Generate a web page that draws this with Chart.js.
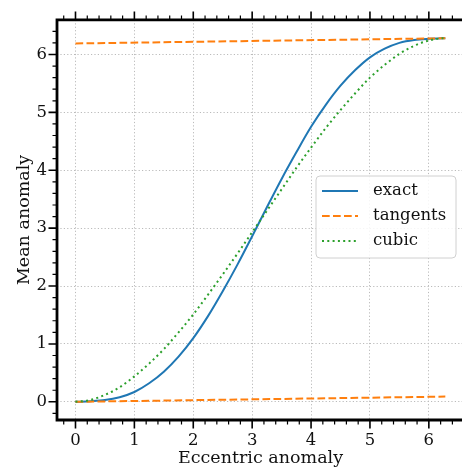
<!DOCTYPE html>
<html>
<head>
<meta charset="utf-8">
<title>Kepler's equation</title>
<script src="https://cdn.jsdelivr.net/npm/chart.js"></script>
<style>
  html, body { margin: 0; padding: 0; overflow: hidden; background: white; }
  #wrap { width: 462px; height: 468px; overflow: hidden; }
  #kepler { display: block; }
</style>
</head>
<body>
<div id="wrap"><canvas id="kepler" width="468" height="468"></canvas></div>
<script>
// eccentric anomaly samples and the mean anomaly along each curve
const eccAnomaly = [0, 0.25, 0.5, 0.75, 1.0, 1.25, 1.5, 1.75, 2.0, 2.25, 2.5, 2.75, 3.0,
                    3.25, 3.5, 3.75, 4.0, 4.25, 4.5, 4.75, 5.0, 5.25, 5.5, 5.75, 6.0, 6.25, 6.28];
const meanExact = [0, 0.01, 0.03, 0.08, 0.17, 0.32, 0.52, 0.78, 1.10, 1.48, 1.91, 2.37, 2.86,
                   3.36, 3.85, 4.31, 4.75, 5.13, 5.46, 5.73, 5.95, 6.10, 6.20, 6.25, 6.27, 6.28, 6.28];
const meanCubic = [0, 0.03, 0.12, 0.25, 0.44, 0.66, 0.91, 1.20, 1.51, 1.85, 2.20, 2.56, 2.93,
                   3.30, 3.67, 4.04, 4.39, 4.73, 5.04, 5.33, 5.60, 5.82, 6.01, 6.15, 6.24, 6.28, 6.28];
// end-point tangents: [E, M] pairs
const tangentLow  = [[0, 0], [6.28, 0.09]];
const tangentHigh = [[0, 6.19], [6.28, 6.28]];

const axisMin = -0.314;
const axisMax = 6.597;
const tickValues = [0, 1, 2, 3, 4, 5, 6];

const BLUE = '#1f77b4', ORANGE = '#ff7f0e', GREEN = '#2ca02c';
const SERIF = "'DejaVu Serif', serif";
const TICK_SIZE = 16.5, TITLE_SIZE = 17.5, LEGEND_SIZE = 16.5;

const toPoints = (xs, ys) => xs.map((x, i) => ({ x: x, y: ys[i] }));
const pairs = list => list.map(p => ({ x: p[0], y: p[1] }));

const legendItems = [
  { label: 'exact', color: BLUE, dash: [] },
  { label: 'tangents', color: ORANGE, dash: [7.7, 3.3] },
  { label: 'cubic', color: GREEN, dash: [2, 3.3] }
];

// left/top/bottom spines with major and minor ticks; the right side runs off the page
const framePlugin = {
  id: 'frame',
  afterDraw(chart) {
    const { ctx, chartArea: a, scales: { x, y } } = chart;
    ctx.save();
    ctx.strokeStyle = '#000';
    ctx.lineCap = 'butt';

    const drawTicks = (values, len, width) => {
      ctx.lineWidth = width;
      ctx.beginPath();
      values.forEach(v => {
        const px = x.getPixelForValue(v);
        ctx.moveTo(px, a.bottom); ctx.lineTo(px, a.bottom + len);
        ctx.moveTo(px, a.top);    ctx.lineTo(px, a.top - len);
        const py = y.getPixelForValue(v);
        ctx.moveTo(a.left, py);   ctx.lineTo(a.left - len, py);
      });
      ctx.stroke();
    };

    const minor = [];
    for (let k = -1; k <= 32; k++) {
      if (k % 5 !== 0) minor.push(k * 0.2);
    }
    drawTicks(minor, 4.5, 1.2);
    drawTicks(tickValues, 8.5, 1.6);

    ctx.lineWidth = 2.8;
    ctx.beginPath();
    ctx.moveTo(chart.width, a.top);
    ctx.lineTo(a.left, a.top);
    ctx.lineTo(a.left, a.bottom);
    ctx.lineTo(chart.width, a.bottom);
    ctx.stroke();
    ctx.restore();
  }
};

// boxed legend inside the plot, right of centre
const legendPlugin = {
  id: 'boxLegend',
  afterDatasetsDraw(chart) {
    const ctx = chart.ctx;
    const bx = 316, by = 176, bw = 140, bh = 82, r = 4;
    ctx.save();
    ctx.beginPath();
    ctx.roundRect(bx, by, bw, bh, r);
    ctx.fillStyle = 'rgba(255,255,255,0.85)';
    ctx.fill();
    ctx.lineWidth = 1;
    ctx.strokeStyle = '#d0d0d0';
    ctx.stroke();

    ctx.font = LEGEND_SIZE + 'px ' + SERIF;
    ctx.textBaseline = 'middle';
    legendItems.forEach((item, i) => {
      const ly = 191 + i * 25;
      ctx.beginPath();
      ctx.setLineDash(item.dash);
      ctx.strokeStyle = item.color;
      ctx.lineWidth = 2;
      ctx.moveTo(322, ly);
      ctx.lineTo(358, ly);
      ctx.stroke();
      ctx.setLineDash([]);
      ctx.fillStyle = '#111';
      ctx.fillText(item.label, 373, ly);
    });
    ctx.restore();
  }
};

const gridOpts = {
  color: '#bbbbbb',
  lineWidth: 1,
  drawTicks: false
};
const borderOpts = { display: false, dash: [1.2, 2.2] };

new Chart(document.getElementById('kepler'), {
  type: 'line',
  data: {
    datasets: [
      {
        label: 'exact',
        data: toPoints(eccAnomaly, meanExact),
        borderColor: BLUE,
        borderWidth: 2,
        pointRadius: 0,
        cubicInterpolationMode: 'monotone',
        order: 4
      },
      {
        label: 'tangents',
        data: pairs(tangentLow),
        borderColor: ORANGE,
        borderWidth: 2,
        borderDash: [7.7, 3.3],
        pointRadius: 0,
        order: 3
      },
      {
        label: 'tangents (apoapsis)',
        data: pairs(tangentHigh),
        borderColor: ORANGE,
        borderWidth: 2,
        borderDash: [7.7, 3.3],
        pointRadius: 0,
        order: 2
      },
      {
        label: 'cubic',
        data: toPoints(eccAnomaly, meanCubic),
        borderColor: GREEN,
        borderWidth: 2,
        borderDash: [2, 3.3],
        pointRadius: 0,
        cubicInterpolationMode: 'monotone',
        order: 1
      }
    ]
  },
  options: {
    responsive: false,
    animation: false,
    devicePixelRatio: 1,
    layout: { padding: { left: 0, top: 13, right: 4, bottom: 0 } },
    plugins: {
      legend: { display: false },
      tooltip: { enabled: false }
    },
    scales: {
      x: {
        type: 'linear',
        min: axisMin,
        max: axisMax,
        border: borderOpts,
        grid: gridOpts,
        afterBuildTicks: s => { s.ticks = tickValues.map(v => ({ value: v })); },
        afterFit: s => { s.height = 48; },
        ticks: {
          padding: 11,
          color: '#111',
          font: { family: SERIF, size: TICK_SIZE }
        },
        title: {
          display: true,
          text: 'Eccentric anomaly',
          color: '#111',
          font: { family: SERIF, size: TITLE_SIZE },
          padding: { top: 0, bottom: -1 }
        }
      },
      y: {
        type: 'linear',
        min: axisMin,
        max: axisMax,
        border: borderOpts,
        grid: gridOpts,
        afterBuildTicks: s => { s.ticks = tickValues.map(v => ({ value: v })); },
        afterFit: s => { s.width = 57; },
        ticks: {
          padding: 10,
          color: '#111',
          font: { family: SERIF, size: TICK_SIZE }
        },
        title: {
          display: true,
          text: 'Mean anomaly',
          color: '#111',
          font: { family: SERIF, size: TITLE_SIZE },
          padding: { top: 14, bottom: 0 }
        }
      }
    }
  },
  plugins: [framePlugin, legendPlugin]
});
</script>
</body>
</html>
